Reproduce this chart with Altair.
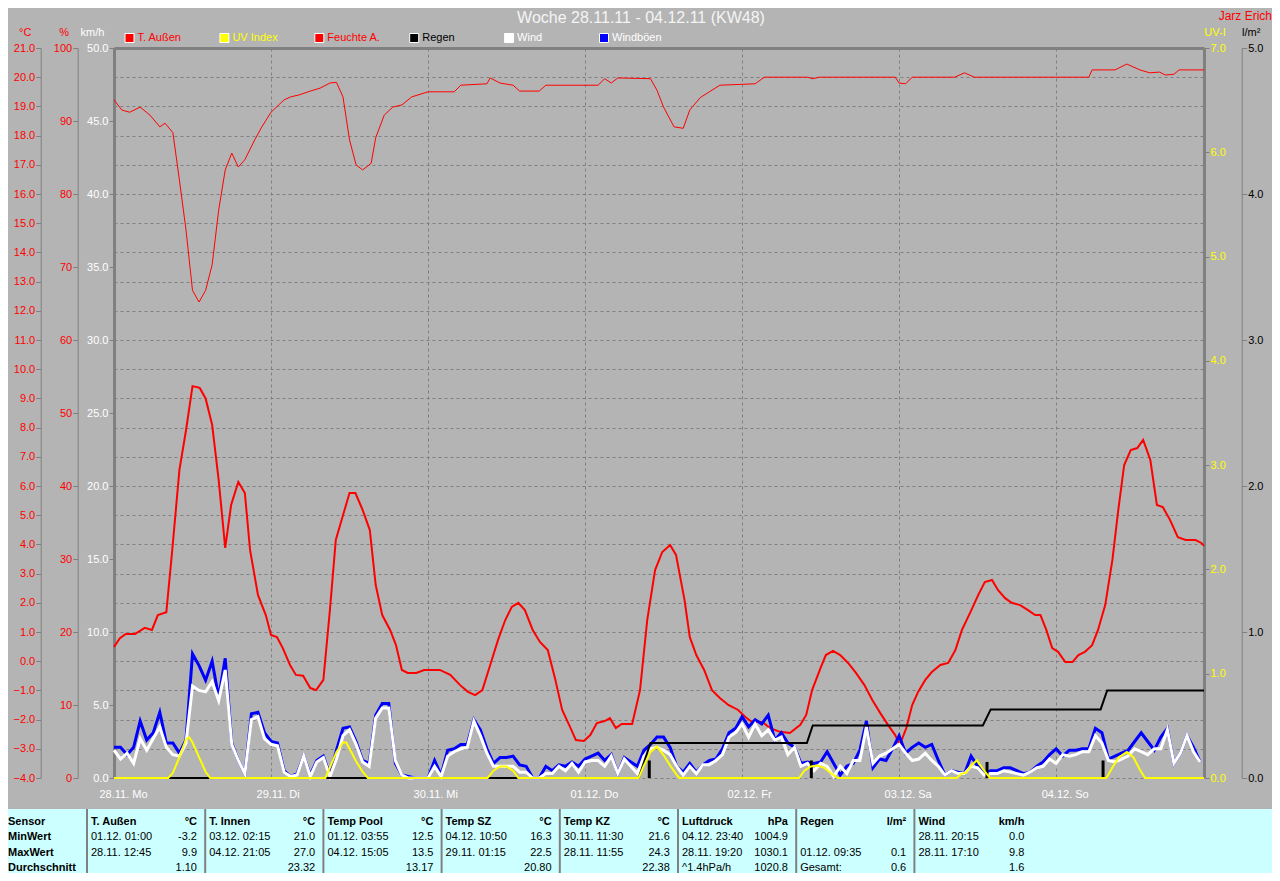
import altair as alt
import pandas as pd

# ---------------- data ----------------
TITLE = "Woche 28.11.11 - 04.12.11 (KW48)"
AUTHOR = "Jarz Erich"
DAY_HOURS = [0, 24, 48, 72, 96, 120, 144]
DAY_LABELS = ["28.11. Mo", "29.11. Di", "30.11. Mi", "01.12. Do", "02.12. Fr", "03.12. Sa", "04.12. So"]
X_END = 166.6

HUM_HOURS = [0, 1.2, 2.4, 4, 5.5, 7, 7.8, 9, 10, 11, 12, 13, 14, 15, 16, 17, 18, 19, 20, 21.5, 22.6,
             24, 26, 27, 28.4, 30, 31.5, 33, 34, 35, 36, 37, 38, 39.3, 40, 41.3, 42.6, 44, 45.5,
             48, 52, 53, 57, 57.5, 59, 61, 62, 65, 66, 74, 75, 76, 77, 82, 83, 84, 85.6, 87, 88,
             89.6, 91, 92.6, 98, 99.4, 106, 106.8, 107.8, 119.4, 120, 121, 122, 128.5, 130, 131.5,
             149, 149.5, 153, 154.8, 156.8, 158.3, 159.8, 160.7, 162, 162.8, 166.6]
HUM_VALUES = [92.9, 91.5, 91.2, 91.9, 90.8, 89.2, 89.7, 88.4, 81.9, 75.1, 66.8, 65.2, 66.8, 70.3, 77.8,
              83.3, 85.6, 83.7, 84.7, 87.4, 89.2, 91.2, 92.9, 93.3, 93.6, 94.1, 94.5, 95.2, 95.3, 93.3,
              87.4, 84.0, 83.3, 84.2, 87.7, 90.8, 91.9, 92.2, 93.3, 94.0, 94.0, 94.9, 95.1, 95.9, 95.2,
              94.9, 94.1, 94.1, 94.9, 94.9, 95.8, 95.2, 95.9, 95.8, 94.2, 91.9, 89.2, 89.0, 91.5, 93.2,
              94.0, 94.9, 95.1, 96.0, 96.0, 95.8, 96.0, 96.0, 95.2, 95.1, 96.0, 96.0, 96.6, 96.0, 96.0,
              97.0, 97.0, 97.8, 97.0, 96.6, 96.7, 96.3, 96.4, 97.0, 97.0]

TEMP_HOURS = [0, 0.9, 1.8, 3.2, 4.7, 5.8, 6.7, 8, 8.9, 10, 11, 12, 13.1, 14, 15, 16, 17, 17.9, 19, 20,
              20.8, 22, 23.2, 24, 24.9, 25.8, 26.9, 27.8, 28.9, 30, 30.9, 32, 33, 33.9, 35, 36, 36.9,
              38, 39.1, 40, 41, 42.2, 43.1, 44, 44.9, 46.2, 47.4, 49.8, 51.4, 52.9, 54.1, 55.2, 56.3,
              57.5, 58.7, 59.8, 60.8, 61.8, 62.8, 64, 65.1, 66.3, 67.4, 68.5, 69.7, 70.6, 71.8, 72.8,
              73.8, 75, 75.8, 76.7, 77.6, 79.2, 80.4, 81.5, 82.7, 83.8, 85, 85.9, 87.2, 88, 89, 90.2,
              91.4, 92.6, 93.9, 95.4, 96.5, 97.5, 99.1, 100.3, 101.8, 103.3, 104.9, 105.8, 106.7, 108,
              108.8, 109.9, 111, 112.2, 113.4, 114.7, 115.9, 117.1, 118.3, 119.4, 120.1, 121.1, 122,
              122.9, 124, 125, 126.3, 127.5, 128.6, 129.6, 130.9, 132.1, 133.1, 134.2, 135.1, 136.2,
              137.2, 138.5, 139.7, 140.8, 141.6, 142.5, 143.4, 144.3, 145.4, 146.5, 147.4, 148.4,
              149.5, 150.4, 151.5, 152.6, 153.5, 154.4, 155.4, 156.4, 157.3, 158.4, 159.4, 160.3,
              161.4, 162.6, 163.8, 165.3, 166.2, 166.6]
TEMP_VALUES = [0.49, 0.79, 0.93, 0.93, 1.14, 1.07, 1.58, 1.68, 3.8, 6.55, 7.9, 9.42, 9.36, 9.0, 8.1, 6.2,
               3.88, 5.35, 6.14, 5.76, 3.8, 2.27, 1.58, 0.9, 0.83, 0.45, -0.13, -0.47, -0.5, -0.92,
               -0.99, -0.64, 1.75, 4.15, 5.0, 5.76, 5.76, 5.18, 4.49, 2.61, 1.58, 1.07, 0.55, -0.3,
               -0.4, -0.4, -0.3, -0.3, -0.47, -0.82, -1.05, -1.16, -0.99, -0.13, 0.73, 1.41, 1.86, 2.0,
               1.75, 1.07, 0.66, 0.38, -0.58, -1.67, -2.25, -2.7, -2.73, -2.53, -2.12, -2.05, -1.95,
               -2.29, -2.15, -2.15, -0.99, 1.41, 3.12, 3.74, 3.98, 3.64, 2.1, 0.83, 0.21, -0.3, -0.99,
               -1.26, -1.5, -1.67, -1.91, -2.08, -2.08, -2.29, -2.42, -2.46, -2.18, -1.84, -0.99,
               -0.23, 0.21, 0.35, 0.21, -0.06, -0.4, -0.82, -1.33, -1.77, -2.18, -2.53, -2.87, -2.29,
               -1.5, -1.05, -0.64, -0.37, -0.13, -0.06, 0.38, 1.07, 1.68, 2.27, 2.71, 2.78, 2.44, 2.16,
               2.0, 1.92, 1.75, 1.58, 1.58, 1.07, 0.45, 0.32, -0.03, -0.03, 0.21, 0.32, 0.55, 1.07,
               1.92, 3.47, 5.18, 6.72, 7.23, 7.3, 7.58, 6.89, 5.35, 5.28, 4.84, 4.25, 4.15, 4.15, 4.05,
               3.95]

WIND_HOURS = list(range(167))
GUST_VALUES = [2.1, 2.1, 1.6, 2.1, 3.9, 2.6, 3.1, 4.5, 2.4, 2.4,
               1.7, 2.6, 8.5, 7.7, 6.7, 8.0, 5.5, 8.2, 2.4, 1.2,
               0.3, 4.4, 4.5, 3.1, 2.5, 2.4, 0.5, 0.1, 0.3, 1.5,
               0.2, 1.2, 1.5, 0.2, 1.9, 3.4, 3.5, 2.5, 1.2, 1.0,
               4.3, 5.1, 5.1, 1.0, 0.2, 0.1, 0.0, 0.0, 0.0, 1.2,
               0.2, 1.9, 2.0, 2.3, 2.3, 4.0, 3.3, 2.0, 1.0, 1.4,
               1.4, 1.5, 0.9, 0.8, 0.0, 0.0, 0.8, 0.5, 0.9, 0.8,
               1.1, 0.8, 1.3, 1.5, 1.7, 1.2, 1.6, 0.3, 1.4, 1.1,
               0.8, 1.9, 2.3, 2.8, 2.8, 2.1, 0.8, 0.4, 1.0, 0.4,
               0.9, 1.2, 1.3, 2.0, 3.1, 3.4, 4.2, 3.5, 4.0, 3.7,
               4.3, 2.6, 3.1, 2.4, 2.1, 1.0, 1.1, 1.0, 1.1, 1.8,
               1.0, 0.2, 0.8, 1.0, 1.9, 3.9, 0.7, 1.3, 1.2, 2.0,
               2.9, 1.7, 2.1, 2.4, 2.1, 2.3, 1.2, 0.2, 0.5, 0.4,
               0.3, 1.5, 0.8, 0.3, 0.5, 0.5, 0.7, 0.7, 0.5, 0.3,
               0.4, 0.8, 1.1, 1.6, 2.0, 1.5, 1.9, 1.9, 2.0, 2.0,
               3.4, 3.1, 1.3, 1.5, 1.7, 1.9, 2.5, 3.1, 2.5, 1.9,
               2.8, 3.4, 1.0, 1.7, 2.9, 2.1, 1.1]
WIND_VALUES = [1.9, 1.3, 1.7, 1.0, 2.7, 1.9, 2.7, 3.5, 2.1, 1.6,
               1.5, 2.4, 6.3, 6.0, 5.9, 6.6, 5.3, 7.4, 2.3, 1.2,
               0.3, 4.0, 4.2, 2.7, 2.3, 2.2, 0.4, 0.1, 0.2, 1.5,
               0.1, 1.1, 1.4, 0.1, 1.3, 2.9, 3.3, 2.3, 1.1, 0.8,
               4.1, 4.8, 4.8, 1.2, 0.2, 0.0, 0.0, 0.0, 0.0, 0.8,
               0.1, 1.5, 1.8, 2.0, 2.1, 3.9, 2.9, 1.7, 0.8, 0.8,
               0.8, 0.8, 0.4, 0.4, 0.0, 0.0, 0.3, 0.3, 0.8, 0.5,
               1.0, 0.4, 1.1, 1.2, 1.2, 0.8, 1.5, 0.3, 1.3, 0.8,
               0.3, 1.5, 2.0, 2.1, 1.9, 1.6, 0.8, 0.2, 0.8, 0.3,
               0.9, 0.9, 1.2, 1.6, 2.8, 3.1, 3.7, 2.8, 3.7, 2.9,
               3.3, 2.6, 2.8, 1.6, 2.1, 0.8, 1.0, 0.5, 1.0, 0.8,
               0.1, 0.8, 0.3, 1.2, 1.2, 3.5, 1.0, 1.5, 1.7, 2.0,
               2.3, 1.7, 1.2, 1.3, 1.7, 1.2, 0.8, 0.2, 0.5, 0.3,
               0.3, 0.8, 0.7, 0.2, 0.3, 0.3, 0.5, 0.4, 0.3, 0.2,
               0.4, 0.7, 0.8, 1.3, 1.0, 1.6, 1.5, 1.6, 1.8, 1.8,
               2.9, 2.4, 1.2, 1.1, 1.3, 1.5, 2.0, 1.8, 1.6, 2.0,
               2.0, 3.3, 1.0, 1.7, 2.9, 1.8, 1.1]

UV_HOURS = [0, 8.3, 9, 10, 11, 11.5, 12, 13, 14, 14.7,
            32.3, 33, 34, 35, 35.5, 36, 37, 38, 38.8,
            57.1, 58, 59, 60, 61, 61.8,
            80.2, 81, 82, 83, 84, 85, 86, 86.4,
            104.7, 105.5, 106.5, 107.5, 108.5, 109.5, 110.6,
            128.8, 129.5, 130.2, 131, 131.9, 133, 133.9,
            151.7, 152.6, 153.6, 154.8, 155.8, 156.8, 157.6, 166.6]
UV_VALUES = [0, 0, 0.05, 0.2, 0.37, 0.39, 0.34, 0.2, 0.06, 0,
             0, 0.1, 0.25, 0.34, 0.34, 0.28, 0.16, 0.06, 0,
             0, 0.07, 0.11, 0.11, 0.07, 0,
             0, 0.12, 0.25, 0.3, 0.22, 0.12, 0.03, 0,
             0, 0.07, 0.11, 0.12, 0.1, 0.05, 0,
             0, 0.04, 0.05, 0.12, 0.17, 0.07, 0,
             0, 0.1, 0.2, 0.25, 0.2, 0.08, 0, 0]

RAIN_SUM_HOURS = [0, 80.2, 82, 105.9, 106.8, 132.8, 134, 150.8, 151.8, 166.6]
RAIN_SUM_VALUES = [0, 0, 0.24, 0.24, 0.36, 0.36, 0.47, 0.47, 0.6, 0.6]
RAIN_EVENT_HOURS = [81.8, 106.8, 133.9, 151.8]
RAIN_EVENT_VALUES = [0.12, 0.12, 0.11, 0.12]

LEGEND_LABELS = ["T. Außen", "UV Index", "Feuchte A.", "Regen", "Wind", "Windböen"]
LEGEND_COLORS = ["#ff0000", "#ffff00", "#ff0000", "#000000", "#ffffff", "#0000ff"]
LEGEND_TEXT_COLORS = ["#ff0000", "#ffff00", "#ff0000", "#000000", "#ffffff", "#ffffff"]

TABLE_ROW_LABELS = ["Sensor", "MinWert", "MaxWert", "Durchschnitt"]
TABLE_SENSORS = ["T. Außen", "T. Innen", "Temp Pool", "Temp SZ", "Temp KZ", "Luftdruck", "Regen", "Wind"]
TABLE_UNITS = ["°C", "°C", "°C", "°C", "°C", "hPa", "l/m²", "km/h"]
TABLE_MIN_TIME = ["01.12.  01:00", "03.12.  02:15", "01.12.  03:55", "04.12.  10:50", "30.11.  11:30",
                  "04.12.  23:40", "", "28.11.  20:15"]
TABLE_MIN_VALUE = ["-3.2", "21.0", "12.5", "16.3", "21.6", "1004.9", "", "0.0"]
TABLE_MAX_TIME = ["28.11.  12:45", "04.12.  21:05", "04.12.  15:05", "29.11.  01:15", "28.11.  11:55",
                  "28.11.  19:20", "01.12.  09:35", "28.11.  17:10"]
TABLE_MAX_VALUE = ["9.9", "27.0", "13.5", "22.5", "24.3", "1030.1", "0.1", "9.8"]
TABLE_AVG_NOTE = ["", "", "", "", "", "^1.4hPa/h", "Gesamt:", ""]
TABLE_AVG_VALUE = ["1.10", "23.32", "13.17", "20.80", "22.38", "1020.8", "0.6", "1.6"]

# ---------------- styling / layout ----------------
FONT = "Liberation Sans"
BG = "#b4b4b4"
GRID = "#808080"
W, H = 1090, 730

df_hum = pd.DataFrame({"h": HUM_HOURS, "v": HUM_VALUES})
df_temp = pd.DataFrame({"h": TEMP_HOURS, "v": TEMP_VALUES})
df_wind = pd.DataFrame({"h": WIND_HOURS, "wind": WIND_VALUES, "gust": GUST_VALUES})
df_uv = pd.DataFrame({"h": UV_HOURS, "v": UV_VALUES})
df_rsum = pd.DataFrame({"h": RAIN_SUM_HOURS, "v": RAIN_SUM_VALUES})
df_rev = pd.DataFrame({"h": RAIN_EVENT_HOURS, "v": RAIN_EVENT_VALUES})
df_leg = pd.DataFrame({"i": list(range(len(LEGEND_LABELS))), "label": LEGEND_LABELS,
                       "fillc": LEGEND_COLORS, "textc": LEGEND_TEXT_COLORS})

xscale = alt.Scale(domain=[0, X_END], nice=False, zero=False)
label_expr = "[" + ",".join(f"'{d}'" for d in DAY_LABELS) + "][round(datum.value/24)]"


def xq(axis=None):
    return alt.X("h:Q", scale=xscale, axis=axis)


def yaxis(orient, offset, values, fmt, color, title, title_x, domain_width=1, grid=False):
    extra = {}
    if grid:
        extra = dict(grid=True, gridDash=[3, 3], gridColor=GRID)
    else:
        extra = dict(grid=False)
    return alt.Axis(orient=orient, offset=offset, values=values, format=fmt, labelColor=color,
                    title=title, titleColor=color, titleAngle=0, titleX=title_x, titleY=-16,
                    titleAlign="center", titleBaseline="middle", titleFont=FONT,
                    titleFontSize=11, titleFontWeight="normal",
                    domainColor=GRID, domainWidth=domain_width, tickColor=GRID, tickSize=5,
                    labelPadding=1, labelFont=FONT, labelFontSize=11, **extra)


hum = alt.Chart(df_hum).mark_line(color="#ff0000", strokeWidth=1).encode(
    x=xq(alt.Axis(orient="bottom", values=DAY_HOURS, labelExpr=label_expr, grid=True,
                  gridDash=[3, 3], gridColor=GRID, ticks=False, domain=False, labelColor="white",
                  labelAlign="left", labelOffset=-15, labelPadding=10, labelFont=FONT,
                  labelFontSize=11, title=None)),
    y=alt.Y("v:Q", scale=alt.Scale(domain=[0, 100], nice=False, zero=False),
            axis=yaxis("left", 36.3, list(range(0, 101, 10)), "d", "#ff0000", "%", -14)),
)

temp = alt.Chart(df_temp).mark_line(color="#ff0000", strokeWidth=2).encode(
    x=xq(),
    y=alt.Y("v:Q", scale=alt.Scale(domain=[-4, 21], nice=False, zero=False),
            axis=yaxis("left", 73.3, list(range(-4, 22)), ".1f", "#ff0000", "°C", -16, grid=True)),
)

gust = alt.Chart(df_wind).mark_line(color="#0000ff", strokeWidth=3).encode(
    x=xq(),
    y=alt.Y("gust:Q", scale=alt.Scale(domain=[0, 50], nice=False, zero=False), axis=None),
)
wind = alt.Chart(df_wind).mark_line(color="#ffffff", strokeWidth=3).encode(
    x=xq(),
    y=alt.Y("wind:Q", scale=alt.Scale(domain=[0, 50], nice=False, zero=False),
            axis=yaxis("left", 0, list(range(0, 51, 5)), ".1f", "#ffffff", "km/h", -22, 3)),
)

rsum = alt.Chart(df_rsum).mark_line(color="#000000", strokeWidth=2).encode(
    x=xq(),
    y=alt.Y("v:Q", scale=alt.Scale(domain=[0, 5], nice=False, zero=False),
            axis=yaxis("right", 37.7, list(range(0, 6)), ".1f", "#000000", "l/m²", 9)),
)
rev = alt.Chart(df_rev).mark_bar(color="#000000", width=3).encode(
    x=xq(),
    y=alt.Y("v:Q", scale=alt.Scale(domain=[0, 5], nice=False, zero=False), axis=None),
)

uv = alt.Chart(df_uv).mark_line(color="#ffff00", strokeWidth=2).encode(
    x=xq(alt.Axis(orient="top", labels=False, ticks=False, grid=False, domainWidth=3,
                  domainColor=GRID, title=None)),
    y=alt.Y("v:Q", scale=alt.Scale(domain=[0, 7], nice=False, zero=False),
            axis=yaxis("right", 0, list(range(0, 8)), ".1f", "#ffff00", "UV-I", 10.5, 3)),
)

# legend (top)
leg_x = alt.X("i:Q", scale=alt.Scale(domain=[0, 5], range=[15.5, 490]), axis=None)
leg_sq = alt.Chart(df_leg).mark_square(size=81, stroke="white", strokeWidth=1, opacity=1).encode(
    x=leg_x, y=alt.value(-10), fill=alt.Fill("fillc:N", scale=None))
leg_tx = alt.Chart(df_leg).mark_text(align="left", baseline="middle", dx=8, font=FONT, fontSize=11).encode(
    x=leg_x, y=alt.value(-10), text="label:N", color=alt.Color("textc:N", scale=None))

title_t = alt.Chart(pd.DataFrame({"t": [TITLE]})).mark_text(
    align="center", baseline="middle", font=FONT, fontSize=16, color="#f4f4f4").encode(
    x=alt.value(527), y=alt.value(-30), text="t:N")
author_t = alt.Chart(pd.DataFrame({"t": [AUTHOR]})).mark_text(
    align="right", baseline="middle", font=FONT, fontSize=12, color="#ff0000").encode(
    x=alt.value(1158), y=alt.value(-32), text="t:N")

# summary table (bottom)
n = len(TABLE_SENSORS)
tab_rows = []
for g in range(n):
    tab_rows.append({"g": g, "r": 0, "left": TABLE_SENSORS[g], "right": TABLE_UNITS[g]})
    tab_rows.append({"g": g, "r": 1, "left": TABLE_MIN_TIME[g], "right": TABLE_MIN_VALUE[g]})
    tab_rows.append({"g": g, "r": 2, "left": TABLE_MAX_TIME[g], "right": TABLE_MAX_VALUE[g]})
    tab_rows.append({"g": g, "r": 3, "left": TABLE_AVG_NOTE[g], "right": TABLE_AVG_VALUE[g]})
df_tab = pd.DataFrame(tab_rows)
df_head = df_tab[df_tab.r == 0]
df_body = df_tab[df_tab.r > 0]
df_rowlab = pd.DataFrame({"r": list(range(4)), "t": TABLE_ROW_LABELS})
df_sep = pd.DataFrame({"g": list(range(n))})

gscale = alt.Scale(domain=[0, 8], range=[-27, -27 + 8 * 118.2])
rscale = alt.Scale(domain=[0, 3], range=[774, 820])
gx = alt.X("g:Q", scale=gscale, axis=None)
ry = alt.Y("r:Q", scale=rscale, axis=None)

tab_bg = alt.Chart(pd.DataFrame({"a": [0]})).mark_rect(color="#ccffff").encode(
    x=alt.value(-106), x2=alt.value(1158), y=alt.value(761), y2=alt.value(825))
tab_sep = alt.Chart(df_sep).mark_rule(color=GRID, strokeWidth=2).encode(
    x=gx, y=alt.value(761), y2=alt.value(825))
tab_rowlab = alt.Chart(df_rowlab).mark_text(align="left", baseline="middle", font=FONT, fontSize=11,
                                            fontWeight="bold", color="black").encode(
    x=alt.value(-106), y=ry, text="t:N")
tab_head_l = alt.Chart(df_head).mark_text(align="left", baseline="middle", dx=4, font=FONT, fontSize=11,
                                          fontWeight="bold", color="black").encode(x=gx, y=ry, text="left:N")
tab_head_r = alt.Chart(df_head).mark_text(align="right", baseline="middle", dx=110, font=FONT, fontSize=11,
                                          fontWeight="bold", color="black").encode(x=gx, y=ry, text="right:N")
tab_body_l = alt.Chart(df_body).mark_text(align="left", baseline="middle", dx=4, font=FONT, fontSize=11,
                                          color="black").encode(x=gx, y=ry, text="left:N")
tab_body_r = alt.Chart(df_body).mark_text(align="right", baseline="middle", dx=110, font=FONT, fontSize=11,
                                          color="black").encode(x=gx, y=ry, text="right:N")

chart = alt.layer(
    hum, temp, gust, wind, rsum, rev, uv,
    leg_sq, leg_tx, title_t, author_t,
    tab_bg, tab_sep, tab_rowlab, tab_head_l, tab_head_r, tab_body_l, tab_body_r,
).resolve_scale(x="independent", y="independent").properties(
    width=W, height=H,
    autosize=alt.AutoSizeParams(type="none"),
    padding={"left": 106, "top": 40, "right": 68, "bottom": 95},
    background=BG,
).configure_view(stroke=None)

chart.save("out.html", embed_options={"renderer": "svg", "actions": False})
